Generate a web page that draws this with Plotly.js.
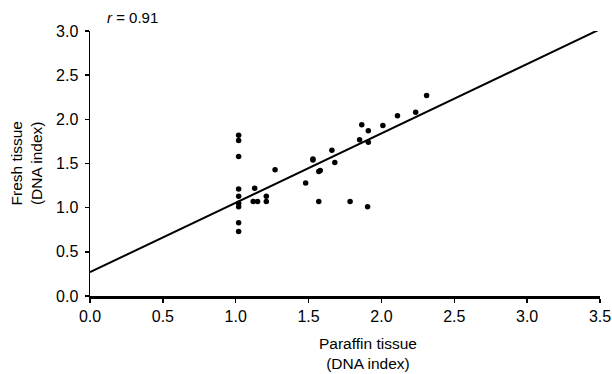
<!DOCTYPE html>
<html>
<head>
<meta charset="utf-8">
<script src="https://cdn.plot.ly/plotly-3.0.1.min.js"></script>
<style>html,body{margin:0;padding:0;background:#fff;}#chart{width:612px;height:374px;}</style>
</head>
<body>
<div id="chart"></div>
<script>
// Paraffin tissue DNA index (x) vs fresh tissue DNA index (y)
const paraffinDI = [1.02,1.02,1.02,1.02,1.02,1.02,1.02,1.02,1.02,
  1.13,1.12,1.15,1.21,1.21,1.27,1.48,1.53,1.53,1.57,1.58,1.57,
  1.66,1.68,1.785,1.905,1.865,1.91,1.85,1.91,2.01,2.11,2.235,2.31];
const freshDI = [1.82,1.76,1.58,1.21,1.13,1.05,1.01,0.83,0.73,
  1.22,1.07,1.07,1.13,1.07,1.43,1.28,1.55,1.54,1.41,1.42,1.07,
  1.65,1.51,1.07,1.01,1.94,1.87,1.77,1.74,1.93,2.04,2.08,2.27];
const fitX = [0, 3.5];
const fitY = [0.27, 3.02];
const xTicks = [0,0.5,1,1.5,2,2.5,3,3.5];
const yTicks = [0,0.5,1,1.5,2,2.5,3];
const rLabel = "<i>r</i> = 0.91";

const font = {family: "Liberation Sans, Arial, sans-serif", color: "#000"};

const traces = [
  {x: fitX, y: fitY, mode: "lines", line: {color: "#000", width: 2}, hoverinfo: "skip", cliponaxis: false},
  {x: paraffinDI, y: freshDI, mode: "markers", marker: {color: "#000", size: 5.5}}
];

const layout = {
  width: 612, height: 374,
  margin: {l: 90, r: 12, t: 31, b: 78},
  paper_bgcolor: "#fff", plot_bgcolor: "#fff",
  showlegend: false,
  font: Object.assign({size: 15}, font),
  xaxis: {
    range: [0, 3.5], tickvals: xTicks, tickformat: ".1f",
    showgrid: false, zeroline: false,
    showline: true, linecolor: "#000", linewidth: 2.5,
    ticks: "outside", ticklen: 4, tickcolor: "#000", tickwidth: 1.5,
    ticklabeloverflow: "allow",
    tickfont: Object.assign({size: 16}, font)
  },
  yaxis: {
    range: [0, 3.0], tickvals: yTicks, tickformat: ".1f",
    showgrid: false, zeroline: false,
    showline: true, linecolor: "#000", linewidth: 1.5,
    ticks: "outside", ticklen: 4, tickcolor: "#000", tickwidth: 1.5,
    ticklabelstandoff: 3,
    ticklabeloverflow: "allow",
    tickfont: Object.assign({size: 16}, font)
  },
  annotations: [
    {text: rLabel, xref: "paper", yref: "paper", x: 0.03, y: 1.0, yshift: 14,
     xanchor: "left", yanchor: "middle", showarrow: false,
     font: Object.assign({size: 15}, font)},
    {text: "Paraffin tissue<br>(DNA index)", xref: "paper", yref: "paper",
     x: (368-90)/510, y: 0, yshift: -37, xanchor: "center", yanchor: "top",
     showarrow: false, font: Object.assign({size: 15.5}, font)},
    {text: "Fresh tissue<br>(DNA index)", xref: "paper", yref: "paper",
     x: 0, xshift: -64, y: 0.5, xanchor: "center", yanchor: "middle",
     textangle: -90, showarrow: false, font: Object.assign({size: 15.5}, font)}
  ]
};

Plotly.newPlot("chart", traces, layout, {staticPlot: true});
</script>
</body>
</html>
